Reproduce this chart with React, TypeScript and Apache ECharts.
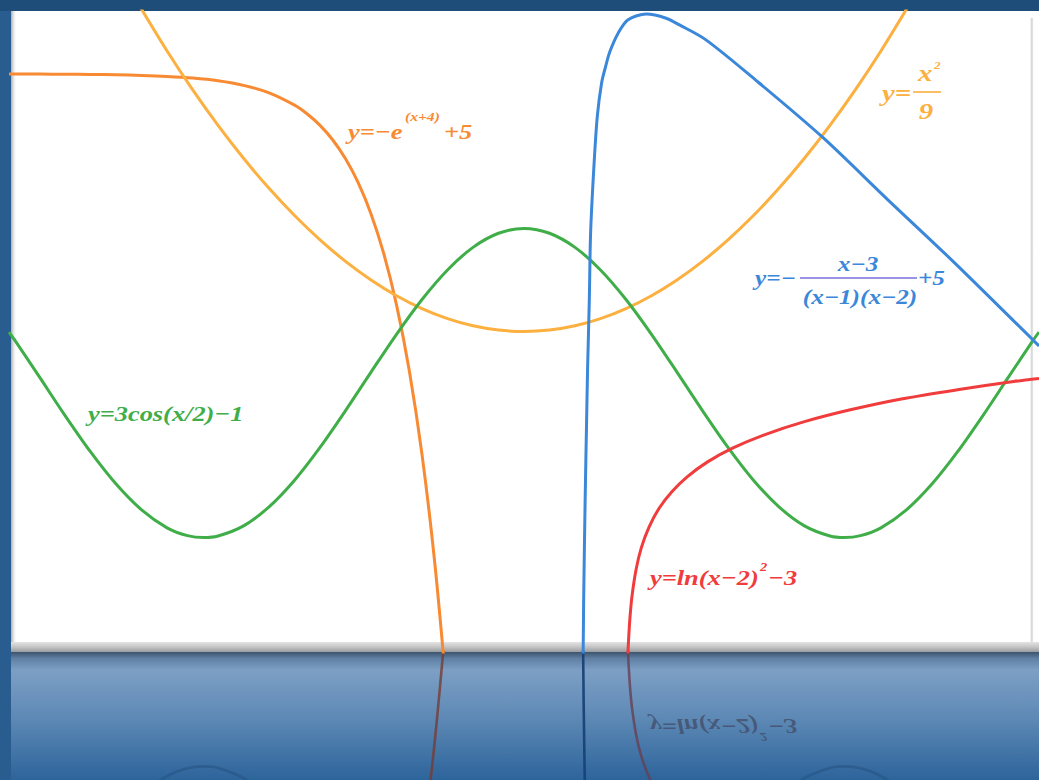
import React, { useEffect, useRef } from "react";
import * as echarts from "echarts";

// Sampled points of each plotted curve, [x, y]
const expCurve: [number, number][] = [
  [-10.1, 4.998], [-9.5, 4.996], [-9, 4.993], [-8.5, 4.989], [-8, 4.982], [-7.5, 4.97],
  [-7, 4.95], [-6.5, 4.918], [-6, 4.865], [-5.5, 4.777], [-5, 4.632], [-4.5, 4.393],
  [-4.25, 4.221], [-4, 4.0], [-3.75, 3.716], [-3.5, 3.351], [-3.25, 2.883], [-3, 2.282],
  [-2.75, 1.51], [-2.5, 0.518], [-2.25, -0.755], [-2, -2.389], [-1.75, -4.488], [-1.5, -7.183],
];

const parabolaCurve: [number, number][] = [
  [-7.6, 6.418], [-7, 5.444], [-6.5, 4.694], [-6, 4.0], [-5.5, 3.361], [-5, 2.778],
  [-4.5, 2.25], [-4, 1.778], [-3.5, 1.361], [-3, 1.0], [-2.5, 0.694], [-2, 0.444],
  [-1.5, 0.25], [-1, 0.111], [-0.5, 0.028], [0, 0], [0.5, 0.028], [1, 0.111],
  [1.5, 0.25], [2, 0.444], [2.5, 0.694], [3, 1.0], [3.5, 1.361], [4, 1.778],
  [4.5, 2.25], [5, 2.778], [5.5, 3.361], [6, 4.0], [6.5, 4.694], [7, 5.444], [7.6, 6.418],
];

const cosineCurve: [number, number][] = [
  [-10.1, -0.01], [-10, -0.149], [-9.5, -0.887], [-9, -1.632], [-8.5, -2.338], [-8, -2.961],
  [-7.5, -3.462], [-7, -3.81], [-6.6, -3.962], [-6.283, -4.0], [-6, -3.97], [-5.5, -3.773],
  [-5, -3.403], [-4.5, -2.885], [-4, -2.248], [-3.5, -1.535], [-3, -0.788], [-2.5, -0.054],
  [-2, 0.621], [-1.5, 1.195], [-1, 1.633], [-0.5, 1.907], [0, 2], [0.5, 1.907], [1, 1.633],
  [1.5, 1.195], [2, 0.621], [2.5, -0.054], [3, -0.788], [3.5, -1.535], [4, -2.248],
  [4.5, -2.885], [5, -3.403], [5.5, -3.773], [6, -3.97], [6.283, -4.0], [6.6, -3.962],
  [7, -3.81], [7.5, -3.462], [8, -2.961], [8.5, -2.338], [9, -1.632], [9.5, -0.887],
  [10, -0.149], [10.1, -0.01],
];

const rationalCurve: [number, number][] = [
  [1.15, -6.6], [1.16, -6.22], [1.17, -5.21], [1.199, -3.27], [1.228, -1.72], [1.248, -0.68],
  [1.281, 0.61], [1.306, 1.91], [1.371, 3.2], [1.437, 4.17], [1.521, 4.82],
  [1.605, 5.16], [1.683, 5.43], [1.846, 5.79], [2.041, 6.05], [2.398, 6.16], [2.788, 6.08],
  [3.048, 5.95], [3.568, 5.66], [4.543, 4.88], [5.844, 3.78], [7.142, 2.55], [8.384, 1.39],
  [9.983, -0.165], [10.1, -0.28],
];

const logCurve: [number, number][] = [
  [2.035, -6.35], [2.05, -6.0], [2.08, -5.53], [2.12, -5.12], [2.2, -4.61], [2.3, -4.2],
  [2.45, -3.8], [2.65, -3.43], [2.9, -3.11], [3.2, -2.82], [3.6, -2.53], [4.1, -2.26],
  [4.7, -2.01], [5.5, -1.75], [6.4, -1.52], [7.4, -1.31], [8.5, -1.13], [9.6, -0.97], [10.1, -0.91],
];

// Formula captions
const expLabel = ["y=\u2212e", "(x+4)", "+5"];
const parabolaLabel = ["y=", "x", "2", "9"];
const rationalLabel = ["y=\u2212", "x\u22123", "(x\u22121)(x\u22122)", "+5"];
const cosineLabel = "y=3cos(x/2)\u22121";
const logLabel = ["y=ln(x\u22122)", "2", "\u22123"];

const X_RANGE = [-10.1, 10.1];
const Y_RANGE = [-6.22, 6.22];
// the floor shows the lower 128 px of the plot, mirrored
const FLOOR_RANGE = [-6.22, -3.736];

const FONT = "'Liberation Serif', 'Times New Roman', serif";
const SX = 1.2;

const C = {
  exp: "#f78a32",
  parabola: "#fbb040",
  cosine: "#3fae49",
  rational: "#3b87d9",
  log: "#f03c3c",
};

function txt(text: string, x: number, y: number, size: number, color: string, extra: any = {}) {
  const { align, ...rest } = extra;
  return {
    type: "text",
    x,
    y,
    scaleX: SX,
    z: 100,
    ...rest,
    style: {
      text,
      fill: color,
      fontSize: size,
      fontFamily: FONT,
      fontWeight: "bold",
      fontStyle: "italic",
      align: align || "left",
      textAlign: align || "left",
      verticalAlign: "middle",
      textVerticalAlign: "middle",
    },
  };
}

function bar(x1: number, x2: number, y: number, color: string, w = 1.6) {
  return {
    type: "line",
    z: 100,
    shape: { x1, y1: y, x2, y2: y },
    style: { stroke: color, lineWidth: w },
  };
}

export default function App() {
  const ref = useRef<HTMLDivElement>(null);

  useEffect(() => {
    if (!ref.current) return;
    const chart = echarts.init(ref.current, undefined, { renderer: "svg" });

    const curves = [
      { data: expCurve, color: C.exp, mirror: "rgba(118,60,52,0.8)" },
      { data: parabolaCurve, color: C.parabola, mirror: "rgba(120,90,50,0.6)" },
      { data: cosineCurve, color: C.cosine, mirror: "rgba(38,84,132,0.6)" },
      { data: rationalCurve, color: C.rational, mirror: "rgba(24,66,120,0.95)" },
      { data: logCurve, color: C.log, mirror: "rgba(104,62,84,0.8)" },
    ];

    const series: any[] = [];
    curves.forEach((c) => {
      series.push({
        type: "line",
        xAxisIndex: 0,
        yAxisIndex: 0,
        data: c.data,
        showSymbol: false,
        smooth: 0.3,
        clip: true,
        z: 5,
        lineStyle: { color: c.color, width: 3 },
        silent: true,
      });
      series.push({
        type: "line",
        xAxisIndex: 1,
        yAxisIndex: 1,
        data: c.data,
        showSymbol: false,
        smooth: 0.3,
        clip: true,
        z: 4,
        lineStyle: { color: c.mirror, width: 2.6 },
        silent: true,
      });
    });

    const mirrorInk = "rgba(68,82,112,0.85)";

    const graphic: any[] = [
      // frame top band
      {
        type: "rect",
        z: -5,
        shape: { x: 0, y: 0, width: 1039, height: 11 },
        style: { fill: "#1f4d7a" },
      },
      // white plot panel
      {
        type: "rect",
        z: -5,
        shape: { x: 11, y: 11, width: 1028, height: 631 },
        style: { fill: "#ffffff" },
      },
      // inner left shadow
      {
        type: "rect",
        z: -4,
        shape: { x: 11, y: 11, width: 6, height: 631 },
        style: {
          fill: {
            type: "linear", x: 0, y: 0, x2: 1, y2: 0,
            colorStops: [
              { offset: 0, color: "#a9abad" },
              { offset: 1, color: "rgba(255,255,255,0)" },
            ],
          },
        },
      },
      // right edge shade
      {
        type: "rect",
        z: -4,
        shape: { x: 1029, y: 18, width: 5, height: 624 },
        style: {
          fill: {
            type: "linear", x: 0, y: 0, x2: 1, y2: 0,
            colorStops: [
              { offset: 0, color: "rgba(255,255,255,0)" },
              { offset: 0.6, color: "#c9c9c9" },
              { offset: 1, color: "rgba(255,255,255,0)" },
            ],
          },
        },
      },
      // lower bevel
      {
        type: "rect",
        z: -4,
        shape: { x: 11, y: 642, width: 1028, height: 10 },
        style: {
          fill: {
            type: "linear", x: 0, y: 0, x2: 0, y2: 1,
            colorStops: [
              { offset: 0, color: "#e4e4e4" },
              { offset: 0.5, color: "#c4c4c4" },
              { offset: 1, color: "#9a9c9f" },
            ],
          },
        },
      },
      // reflection floor
      {
        type: "rect",
        z: -4,
        shape: { x: 11, y: 652, width: 1028, height: 128 },
        style: {
          fill: {
            type: "linear", x: 0, y: 0, x2: 0, y2: 1,
            colorStops: [
              { offset: 0, color: "#3d536c" },
              { offset: 0.05, color: "#5f7fa3" },
              { offset: 0.14, color: "#7d9fc4" },
              { offset: 0.5, color: "#5f8ab6" },
              { offset: 1, color: "#2d649b" },
            ],
          },
        },
      },

      // y = -e^(x+4) + 5
      txt(expLabel[0], 348, 131, 22, C.exp),
      txt(expLabel[1], 405, 116, 13, C.exp),
      txt(expLabel[2], 444, 131, 22, C.exp),

      // y = x^2 / 9
      txt(parabolaLabel[0], 882, 93, 24, C.parabola),
      txt(parabolaLabel[1], 918, 73, 24, C.parabola),
      txt(parabolaLabel[2], 934, 65, 11, C.parabola),
      bar(913, 941, 92, C.parabola),
      txt(parabolaLabel[3], 926, 111, 24, C.parabola, { align: "center" }),

      // y = -(x-3)/((x-1)(x-2)) + 5
      txt(rationalLabel[0], 755, 278, 21, C.rational),
      txt(rationalLabel[1], 858, 264, 21, C.rational, { align: "center" }),
      bar(800, 917, 278, "#9a92e6", 2),
      txt(rationalLabel[2], 860, 297, 21, C.rational, { align: "center" }),
      txt(rationalLabel[3], 918, 278, 21, C.rational),

      // y = 3cos(x/2) - 1
      txt(cosineLabel, 88, 413, 22, C.cosine),

      // y = ln(x-2)^2 - 3
      txt(logLabel[0], 650, 577, 22, C.log),
      txt(logLabel[1], 760, 567, 12, C.log),
      txt(logLabel[2], 768, 577, 22, C.log),

      // mirrored caption on the floor
      txt(logLabel[0], 650, 727, 22, mirrorInk, { scaleY: -1, z: 6 }),
      txt(logLabel[1], 760, 737, 12, mirrorInk, { scaleY: -1, z: 6 }),
      txt(logLabel[2], 768, 727, 22, mirrorInk, { scaleY: -1, z: 6 }),
    ];

    chart.setOption({
      animation: false,
      backgroundColor: "#2a5d8f",
      grid: [
        { left: 9, top: 11, width: 1036, height: 641, show: false },
        { left: 9, top: 652, width: 1036, height: 128, show: false },
      ],
      xAxis: [
        { type: "value", gridIndex: 0, min: X_RANGE[0], max: X_RANGE[1], show: false },
        { type: "value", gridIndex: 1, min: X_RANGE[0], max: X_RANGE[1], show: false },
      ],
      yAxis: [
        { type: "value", gridIndex: 0, min: Y_RANGE[0], max: Y_RANGE[1], show: false },
        { type: "value", gridIndex: 1, min: FLOOR_RANGE[0], max: FLOOR_RANGE[1], inverse: true, show: false },
      ],
      graphic,
      series,
    });

    return () => chart.dispose();
  }, []);

  return (
    <div
      ref={ref}
      style={{ position: "fixed", left: 0, top: 0, width: 1039, height: 780 }}
    />
  );
}
